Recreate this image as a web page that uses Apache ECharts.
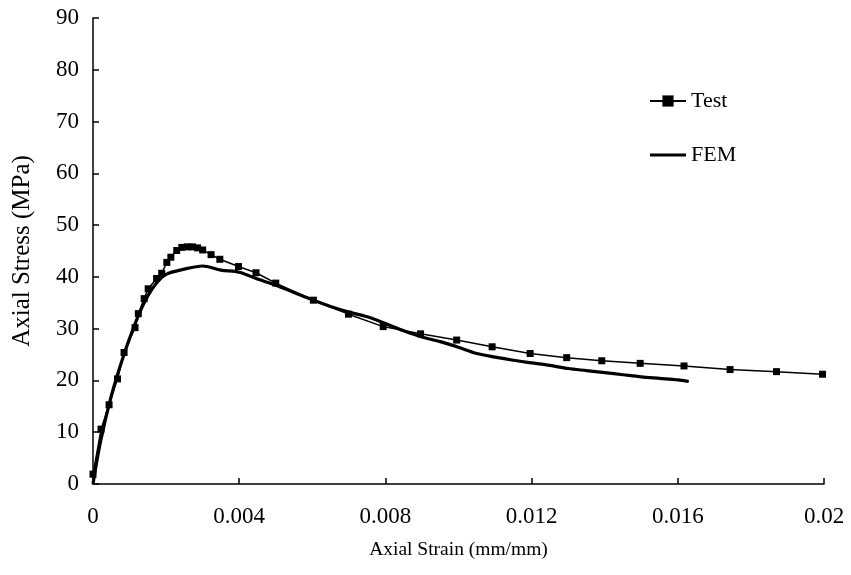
<!DOCTYPE html>
<html>
<head>
    <meta charset="utf-8">
    <title>Axial stress-strain</title>
    <script src="https://cdn.jsdelivr.net/npm/echarts@6/dist/echarts.min.js"></script>
</head>
<body style="margin:0;background:#fff">
<div id="main" style="width: 851px;height:575px;"></div>
<script type="text/javascript">
    // test curve (strain, stress)
    var testStrain = [0, 0.00022, 0.00044, 0.00067, 0.00085, 0.00115, 0.00124, 0.0014, 0.00151, 0.00174,
        0.00188, 0.00202, 0.00213, 0.00229, 0.00243, 0.00258, 0.00272, 0.00286, 0.003, 0.00323,
        0.00347, 0.00398, 0.00446, 0.005, 0.00603, 0.00699, 0.00794, 0.00896, 0.00995, 0.01092,
        0.01196, 0.01296, 0.01392, 0.01497, 0.01617, 0.01743, 0.0187, 0.01996];
    var testStress = [1.9, 10.6, 15.3, 20.3, 25.4, 30.2, 32.9, 35.8, 37.7, 39.7,
        40.7, 42.8, 43.8, 45.1, 45.7, 45.8, 45.8, 45.6, 45.2, 44.3,
        43.4, 42.0, 40.8, 38.8, 35.5, 32.8, 30.4, 29.0, 27.8, 26.5,
        25.2, 24.4, 23.8, 23.3, 22.8, 22.1, 21.7, 21.2];

    // FEM curve
    var femStrain = [0, 0.0002, 0.0005, 0.0008, 0.0011, 0.0014, 0.0017, 0.002, 0.0025, 0.003,
        0.0035, 0.004, 0.0045, 0.005, 0.0055, 0.006, 0.0065, 0.007, 0.0075, 0.008,
        0.0085, 0.009, 0.0095, 0.01, 0.0105, 0.011, 0.0115, 0.012, 0.0125, 0.013,
        0.0135, 0.014, 0.0145, 0.015, 0.0155, 0.016, 0.0163];
    var femStress = [0, 8, 17, 24, 30, 35, 38.5, 40.5, 41.5, 42.1,
        41.3, 40.9, 39.6, 38.4, 37.0, 35.6, 34.3, 33.2, 32.3, 31.0,
        29.6, 28.4, 27.5, 26.4, 25.2, 24.5, 23.9, 23.4, 22.9, 22.3,
        21.9, 21.5, 21.1, 20.7, 20.4, 20.1, 19.8];

    var xTicks = [0, 0.004, 0.008, 0.012, 0.016, 0.02];
    var xTickText = ['0', '0.004', '0.008', '0.012', '0.016', '0.02'];

    function pairs(xs, ys) {
        return xs.map(function (x, i) { return [x, ys[i]]; });
    }

    var font = 'Liberation Serif';
    var myChart = echarts.init(document.getElementById('main'));
    var option = {
        animation: false,
        backgroundColor: '#fff',
        textStyle: { fontFamily: font, color: '#000' },
        grid: { left: 93, right: 27, top: 18, bottom: 91 },
        legend: {
            orient: 'vertical',
            left: 644,
            top: 85,
            itemWidth: 36,
            itemHeight: 14,
            itemGap: 32,
            textStyle: { fontFamily: font, fontSize: 22, color: '#000' },
            data: [
                { name: 'Test' },
                { name: 'FEM', icon: 'path://M0,0 L36,0 L36,3.2 L0,3.2 Z' }
            ]
        },
        xAxis: {
            type: 'value',
            min: 0, max: 0.02, interval: 0.004,
            name: 'Axial Strain (mm/mm)',
            nameLocation: 'middle',
            nameGap: 56,
            nameTextStyle: { fontFamily: font, fontSize: 19.5, color: '#000' },
            splitLine: { show: false },
            axisLine: { lineStyle: { color: '#000', width: 1.5 } },
            axisTick: { inside: true, length: 6, lineStyle: { color: '#000', width: 1.5 } },
            axisLabel: {
                margin: 21, fontFamily: font, fontSize: 23, color: '#000',
                formatter: function (v) {
                    var i = xTicks.findIndex(function (t) { return Math.abs(t - v) < 1e-9; });
                    return i >= 0 ? xTickText[i] : '';
                }
            }
        },
        yAxis: {
            type: 'value',
            min: 0, max: 90, interval: 10,
            name: 'Axial Stress (MPa)',
            nameLocation: 'middle',
            nameGap: 58,
            nameTextStyle: { fontFamily: font, fontSize: 25, color: '#000' },
            splitLine: { show: false },
            axisLine: { lineStyle: { color: '#000', width: 1.5 } },
            axisTick: { inside: true, length: 6, lineStyle: { color: '#000', width: 1.5 } },
            axisLabel: { margin: 14, fontFamily: font, fontSize: 23, color: '#000' }
        },
        series: [
            {
                name: 'Test',
                type: 'line',
                data: pairs(testStrain, testStress),
                symbol: 'rect',
                symbolSize: 7,
                itemStyle: { color: '#000' },
                lineStyle: { color: '#000', width: 1.5 },
                z: 3
            },
            {
                name: 'FEM',
                type: 'line',
                data: pairs(femStrain, femStress),
                symbol: 'none',
                smooth: 0.3,
                itemStyle: { color: '#000' },
                lineStyle: { color: '#000', width: 3.2 },
                z: 2
            }
        ]
    };
    myChart.setOption(option);
</script>
</body>
</html>
